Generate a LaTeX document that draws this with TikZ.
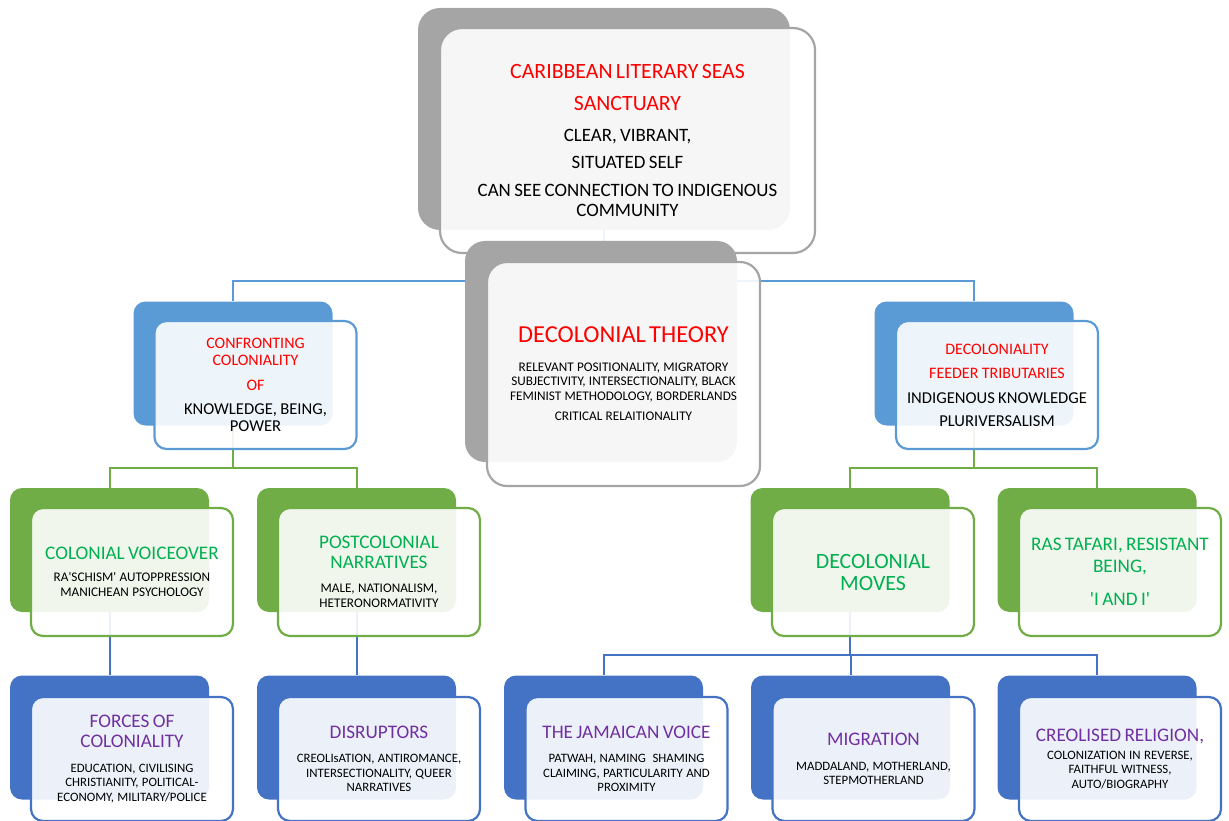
\documentclass[tikz,border=0pt]{standalone}
\usepackage{fontspec}
\setmainfont{Carlito}
\usetikzlibrary{positioning}

\definecolor{grayback}{HTML}{A5A5A5}
\definecolor{lightblue}{HTML}{5B9BD5}
\definecolor{leafgreen}{HTML}{70AD47}
\definecolor{darkblue}{HTML}{4472C4}
\definecolor{capred}{HTML}{FF0000}
\definecolor{txtgreen}{HTML}{00B050}
\definecolor{txtpurple}{HTML}{7030A0}

% one centred line (or block) of text: colour, size, skip, text
\newcommand\boxline[4]{{\color{#1}\fontsize{#2}{#3}\selectfont #4\par}}
\newcommand\sq{\textquotesingle}

\tikzset{
  backbox/.style={fill=#1, rounded corners=12pt, inner sep=0pt, minimum width=199, minimum height=124},
  frontbox/.style={draw=#1, line width=2.2pt, fill=white, fill opacity=0.9, text opacity=1,
    rounded corners=12pt, inner sep=0pt, align=center, text width=198, minimum width=202, minimum height=128},
  link/.style={draw=#1, line width=2pt},
}

\begin{document}
\begin{tikzpicture}[x=1pt,y=-1pt]
\useasboundingbox (0,0) rectangle (1229,821);

% back shapes first only for the anchors of the links
\path node[backbox=none, minimum width=372, minimum height=222] (topB) at (604,119) {};
\path node[backbox=none] (confB) at (233,363.5) {};
\path node[backbox=none] (decB) at (974,363.5) {};
\path node[backbox=none] (cvB) at (109.5,550) {};
\path node[backbox=none] (pcB) at (356.5,550) {};
\path node[backbox=none] (dmB) at (850,550) {};
\path node[backbox=none] (rtB) at (1097,550) {};
\path node[backbox=none] (fcB) at (109.5,737.5) {};
\path node[backbox=none] (drB) at (356.5,737.5) {};
\path node[backbox=none] (jvB) at (603.5,737.5) {};
\path node[backbox=none] (mgB) at (850.5,737.5) {};
\path node[backbox=none] (crB) at (1097,737.5) {};

% links
\draw[link=lightblue] (topB.south) -- ++(0,51) -| (confB.north);
\draw[link=lightblue] (topB.south) -- ++(0,51) -| (decB.north);
\draw[link=leafgreen] (confB.south) -- ++(0,42) -| (cvB.north);
\draw[link=leafgreen] (confB.south) -- ++(0,42) -| (pcB.north);
\draw[link=leafgreen] (decB.south) -- ++(0,42) -| (dmB.north);
\draw[link=leafgreen] (decB.south) -- ++(0,42) -| (rtB.north);
\draw[link=darkblue] (cvB.south) -- (fcB.north);
\draw[link=darkblue] (pcB.south) -- (drB.north);
\draw[link=darkblue] (dmB.south) -- ++(0,43) -| (jvB.north);
\draw[link=darkblue] (dmB.south) -- ++(0,43) -| (mgB.north);
\draw[link=darkblue] (dmB.south) -- ++(0,43) -| (crB.north);

% top
\node[backbox=grayback, rounded corners=22pt, minimum width=372, minimum height=222] at (topB) {};
\node[frontbox=grayback, rounded corners=22pt, minimum width=375, minimum height=225, text width=365] (top) at (627.5,140.5) {%
  \boxline{capred}{21.8}{25.5}{CARIBBEAN LITERARY SEAS}\vspace{6.5pt}
  \boxline{capred}{21.8}{25.5}{SANCTUARY}\vspace{8pt}
  \boxline{black}{18.9}{22.5}{CLEAR, VIBRANT,}\vspace{4.5pt}
  \boxline{black}{18.9}{22.5}{SITUATED SELF}\vspace{8.5pt}
  \boxline{black}{18.9}{20}{CAN SEE CONNECTION TO INDIGENOUS\\COMMUNITY}};

% decolonial theory
\node[backbox=grayback, rounded corners=20pt, minimum width=272, minimum height=221] (dtB) at (601,351.5) {};
\node[frontbox=grayback, rounded corners=20pt, minimum width=273, minimum height=224, text width=266] (dt) at (623.5,374) {%
  \boxline{capred}{24.4}{28}{DECOLONIAL THEORY}\vspace{14pt}
  \boxline{black}{13.2}{14.5}{RELEVANT POSITIONALITY, MIGRATORY\\SUBJECTIVITY, INTERSECTIONALITY, BLACK\\FEMINIST METHODOLOGY, BORDERLANDS}\vspace{6pt}
  \boxline{black}{13.2}{14.5}{CRITICAL RELAITIONALITY}};

% second level
\node[backbox=lightblue] at (confB) {};
\node[frontbox=lightblue] (conf) at (255.5,385) {%
  \boxline{capred}{16}{16.5}{CONFRONTING\\COLONIALITY}\vspace{8pt}
  \boxline{capred}{16}{17}{OF}\vspace{7pt}
  \boxline{black}{16.6}{17}{KNOWLEDGE, BEING,\\POWER}};
\node[backbox=lightblue] at (decB) {};
\node[frontbox=lightblue] (dec) at (997,385) {%
  \boxline{capred}{16}{18}{DECOLONIALITY}\vspace{6pt}
  \boxline{capred}{16}{18}{FEEDER TRIBUTARIES}\vspace{6pt}
  \boxline{black}{16.6}{19}{INDIGENOUS KNOWLEDGE}\vspace{4pt}
  \boxline{black}{16.6}{19}{PLURIVERSALISM}};

% third level
\node[backbox=leafgreen] at (cvB) {};
\node[frontbox=leafgreen] (cv) at (132,572) {%
  \boxline{txtgreen}{19.2}{22}{COLONIAL VOICEOVER}\vspace{7pt}
  \boxline{black}{13.2}{15}{RA\sq SCHISM\sq{} AUTOPPRESSION\\MANICHEAN PSYCHOLOGY}};
\node[backbox=leafgreen] at (pcB) {};
\node[frontbox=leafgreen] (pc) at (379,572) {%
  \boxline{txtgreen}{19.2}{20}{POSTCOLONIAL\\NARRATIVES}\vspace{9pt}
  \boxline{black}{13.2}{15}{MALE, NATIONALISM,\\HETERONORMATIVITY}};
\node[backbox=leafgreen] at (dmB) {};
\node[frontbox=leafgreen] (dm) at (873,572) {%
  \boxline{txtgreen}{21.8}{22}{DECOLONIAL\\MOVES}};
\node[backbox=leafgreen] at (rtB) {};
\node[frontbox=leafgreen] (rt) at (1120,572) {%
  \boxline{txtgreen}{19.2}{21.5}{RAS TAFARI, RESISTANT\\BEING,}\vspace{11.5pt}
  \boxline{txtgreen}{19.2}{21.5}{\sq I AND I\sq}};

% fourth level
\node[backbox=darkblue] at (fcB) {};
\node[frontbox=darkblue, minimum height=124] (fc) at (132,759) {%
  \boxline{txtpurple}{19.2}{20}{FORCES OF\\COLONIALITY}\vspace{10pt}
  \boxline{black}{12.8}{14.5}{EDUCATION, CIVILISING\\CHRISTIANITY, POLITICAL-\\ECONOMY, MILITARY/POLICE}};
\node[backbox=darkblue] at (drB) {};
\node[frontbox=darkblue, minimum height=124] (dr) at (379,759) {%
  \boxline{txtpurple}{19.2}{20}{DISRUPTORS}\vspace{10pt}
  \boxline{black}{12.8}{14.5}{CREOLIsATION, ANTIROMANCE,\\INTERSECTIONALITY, QUEER\\NARRATIVES}};
\node[backbox=darkblue] at (jvB) {};
\node[frontbox=darkblue, minimum height=124] (jv) at (626.5,759) {%
  \boxline{txtpurple}{19.2}{20}{THE JAMAICAN VOICE}\vspace{10pt}
  \boxline{black}{12.8}{14.5}{PATWAH, NAMING\ \ SHAMING\\CLAIMING, PARTICULARITY AND\\PROXIMITY}};
\node[backbox=darkblue] at (mgB) {};
\node[frontbox=darkblue, minimum height=124] (mg) at (873.5,759) {%
  \boxline{txtpurple}{19.2}{20}{MIGRATION}\vspace{10pt}
  \boxline{black}{12.8}{14.5}{MADDALAND, MOTHERLAND,\\STEPMOTHERLAND}};
\node[backbox=darkblue] at (crB) {};
\node[frontbox=darkblue, minimum height=124] (cr) at (1120,759) {%
  \boxline{txtpurple}{19.2}{20}{CREOLISED RELIGION,}\vspace{3pt}
  \boxline{black}{12.8}{14.5}{COLONIZATION IN REVERSE,\\FAITHFUL WITNESS,\\AUTO/BIOGRAPHY}};
\end{tikzpicture}
\end{document}
